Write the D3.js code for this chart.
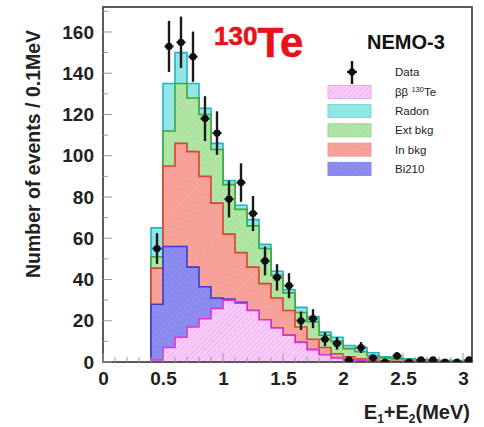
<!DOCTYPE html>
<html>
<head>
<meta charset="utf-8">
<script src="https://cdn.jsdelivr.net/npm/d3@7"></script>
<style>
  html, body { margin: 0; padding: 0; background: #fff; }
  svg { display: block; font-family: "Liberation Sans", Arial, Helvetica, sans-serif; }
</style>
</head>
<body>
<svg id="chart" width="484" height="427"></svg>
<script>
// Bin lower edges (MeV), bin width 0.1 MeV
const binEdges = [0.4,0.5,0.6,0.7,0.8,0.9,1.0,1.1,1.2,1.3,1.4,1.5,1.6,1.7,1.8,1.9,2.0,2.1,2.2,2.3,2.4,2.5,2.6,2.7,2.8,2.9,3.0];
const binWidth = 0.1;

// Stacked MC components (events / 0.1 MeV), bottom to top
const bb130Te = [1,7,12,17,21,26,30,28.5,25,20.5,16.5,13,9.5,6,3.5,2,1,0.5,0,0,0,0,0,0,0,0,0];
const bi210   = [27,49,44,29,15.5,5,0.5,0.5,0,0,0,0,0,0,0,0,0,0,0,0,0,0,0,0,0,0,0];
const inBkg   = [17.5,39,50,56,53.5,46,31.5,24,21,17.5,14.5,12,7.5,5,3.5,2,1.5,1,1,0.6,0.4,0.3,0.2,0.1,0,0,0];
const extBkg  = [5.5,17,29,26,30,26,24,21,20,17,11,8.5,7,8.5,6,6,4,3.5,2,1.4,1.1,0.7,0.6,0.5,0.5,0.4,0.3];
const radon   = [14,23,15,7,3,3,2,2,3,2,2,1.5,2.5,2.5,1.5,2,1.5,2,1.5,0.5,0.5,0.5,0.4,0.4,0.3,0.3,0.3];

// Measured counts per bin
const dataCounts = [55,153,155,148,118,111,79,87,72,49,41,37,20,21,11,9,1,7,2,0,3,0,1,1,0,0,1];

// Axis ticks
const yTicks = [0,20,40,60,80,100,120,140,160];
const xTicks = [0,0.5,1,1.5,2,2.5,3];

const components = [
  { key: "bb",    values: bb130Te, fill: "url(#hatchPink)",  stroke: "#e030d8" },
  { key: "bi",    values: bi210,   fill: "url(#hatchBlue)",  stroke: "#3a3ad0" },
  { key: "inb",   values: inBkg,   fill: "url(#hatchRed)",   stroke: "#d8442e" },
  { key: "ext",   values: extBkg,  fill: "url(#hatchGreen)", stroke: "#3aa83a" },
  { key: "radon", values: radon,   fill: "#92e6e6",          stroke: "#22b4c4" }
];

const legendItems = [
  { label: "Radon",   fill: "#92e6e6",          stroke: "#7fd6d6" },
  { label: "Ext bkg", fill: "url(#hatchGreen)", stroke: "#98d890" },
  { label: "In bkg",  fill: "url(#hatchRed)",   stroke: "#ee9a92" },
  { label: "Bi210",   fill: "url(#hatchBlue)",  stroke: "#8484ea" }
];

const svg = d3.select("#chart");
const margin = { left: 103, right: 12, top: 7, bottom: 65 };
const W = 484, H = 427;

const x = d3.scaleLinear().domain([0, 3.075]).range([margin.left, W - margin.right]);
const y = d3.scaleLinear().domain([0, 172.1]).range([H - margin.bottom, margin.top]);

// Hatch patterns
const defs = svg.append("defs");
function hatch(id, bg, line, size) {
  const p = defs.append("pattern").attr("id", id)
    .attr("patternUnits", "userSpaceOnUse").attr("width", size).attr("height", size)
    .attr("patternTransform", "rotate(45)");
  p.append("rect").attr("width", size).attr("height", size).attr("fill", bg);
  p.append("line").attr("x1", 0).attr("y1", 0).attr("x2", 0).attr("y2", size)
    .attr("stroke", line).attr("stroke-width", 0.8);
}
hatch("hatchPink",  "#f8cdf8", "#ec8ce8", 3.5);
hatch("hatchBlue",  "#8e8ef2", "#7474e0", 3.5);
hatch("hatchRed",   "#f7a49c", "#ee8c84", 3.5);
hatch("hatchGreen", "#b2e6a6", "#98d88c", 3.5);

svg.append("clipPath").attr("id", "plotClip")
  .append("rect").attr("x", margin.left).attr("y", margin.top)
  .attr("width", W - margin.right - margin.left).attr("height", H - margin.bottom - margin.top);

// Stack the MC components
const rows = binEdges.map((e, i) => {
  const r = { edge: e };
  components.forEach(c => r[c.key] = c.values[i]);
  return r;
});
const stacked = d3.stack().keys(components.map(c => c.key))(rows);

// Each cumulative histogram is filled from zero, drawn from the top layer down
const plot = svg.append("g").attr("clip-path", "url(#plotClip)");
const lastEdge = binEdges[binEdges.length - 1] + binWidth;
for (let k = stacked.length - 1; k >= 0; k--) {
  const layer = stacked[k];
  const pts = layer.map(d => [d.data.edge, d[1]]);
  pts.push([lastEdge, layer[layer.length - 1][1]]);
  const area = d3.area().curve(d3.curveStepAfter)
    .x(d => x(d[0])).y0(y(0)).y1(d => y(d[1]));
  const line = d3.line().curve(d3.curveStepAfter)
    .x(d => x(d[0])).y(d => y(d[1]));
  plot.append("path").attr("d", area(pts)).attr("fill", components[k].fill).attr("stroke", "none");
  const outline = [[binEdges[0], 0]].concat(pts);
  plot.append("path").attr("d", line(outline)).attr("fill", "none")
    .attr("stroke", components[k].stroke).attr("stroke-width", 1.6);
}

// Frame
svg.append("rect")
  .attr("x", margin.left).attr("y", margin.top)
  .attr("width", W - margin.right - margin.left).attr("height", H - margin.bottom - margin.top)
  .attr("fill", "none").attr("stroke", "#4a4a4a").attr("stroke-width", 1.8);

// Data points with sqrt(N) errors
const dataG = svg.append("g").attr("clip-path", "url(#plotClip)");
dataCounts.forEach((n, i) => {
  const cx = x(binEdges[i] + binWidth / 2);
  const err = Math.sqrt(n);
  dataG.append("line").attr("x1", cx).attr("x2", cx)
    .attr("y1", y(n + err)).attr("y2", y(Math.max(0, n - err)))
    .attr("stroke", "#1a1a1a").attr("stroke-width", 2.4);
  dataG.append("line").attr("x1", cx - 4.5).attr("x2", cx + 4.5)
    .attr("y1", y(n)).attr("y2", y(n))
    .attr("stroke", "#1a1a1a").attr("stroke-width", 2.2);
  dataG.append("circle").attr("cx", cx).attr("cy", y(n)).attr("r", 3.6).attr("fill", "#111");
});

// Y axis
const yAxis = d3.axisLeft(y).tickValues(yTicks).tickSize(0).tickPadding(9).tickFormat(d3.format("d"));
const gy = svg.append("g").attr("transform", `translate(${margin.left},0)`).call(yAxis);
gy.select(".domain").remove();
gy.selectAll("text").attr("font-size", 19).attr("font-weight", "bold").attr("fill", "#222");
// inward ticks
const yMinor = d3.range(0, 171, 10);
svg.append("g").selectAll("line").data(yMinor).join("line")
  .attr("x1", margin.left).attr("x2", d => margin.left + (d % 20 === 0 ? 9 : 5))
  .attr("y1", d => y(d)).attr("y2", d => y(d))
  .attr("stroke", "#9a9a9a").attr("stroke-width", 1);

// X axis
const xAxis = d3.axisBottom(x).tickValues(xTicks).tickSize(0).tickPadding(10).tickFormat(d => d3.format("")(d));
const gx = svg.append("g").attr("transform", `translate(0,${y(0)})`).call(xAxis);
gx.select(".domain").remove();
gx.selectAll("text").attr("font-size", 19).attr("font-weight", "bold").attr("fill", "#222");
const xMinor = d3.range(0, 31, 1).map(v => v / 10);
svg.append("g").selectAll("line").data(xMinor).join("line")
  .attr("x1", d => x(d)).attr("x2", d => x(d))
  .attr("y1", y(0)).attr("y2", (d, i) => y(0) - (i % 5 === 0 ? 9 : 5))
  .attr("stroke", "#9a9a9a").attr("stroke-width", 1);

// Axis titles
svg.append("text")
  .attr("transform", `translate(40,${(10 + 298) / 2}) rotate(-90)`)
  .attr("text-anchor", "middle").attr("font-size", 19.5).attr("font-weight", "bold").attr("fill", "#222")
  .text("Number of events / 0.1MeV");

const xt = svg.append("text").attr("x", 470).attr("y", 419).attr("text-anchor", "end")
  .attr("font-size", 20).attr("font-weight", "bold").attr("fill", "#222");
xt.append("tspan").text("E");
xt.append("tspan").attr("font-size", 12).attr("dy", 4).text("1");
xt.append("tspan").attr("dy", -4).text("+E");
xt.append("tspan").attr("font-size", 12).attr("dy", 4).text("2");
xt.append("tspan").attr("dy", -4).text("(MeV)");

// Isotope label
const iso = svg.append("text").attr("x", 214).attr("y", 57).attr("fill", "#e8121c")
  .attr("font-weight", "bold").attr("stroke", "#e8121c").attr("stroke-width", 0.6);
iso.append("tspan").attr("font-size", 26).attr("dy", -12).text("130");
iso.append("tspan").attr("font-size", 42).attr("dy", 12).text("Te");

svg.append("text").attr("x", 367).attr("y", 49).attr("font-size", 20).attr("font-weight", "bold")
  .attr("fill", "#111").text("NEMO-3");

// Legend
const lg = svg.append("g");
const boxX = 328, boxW = 43, boxH = 13, textX = 395;
// data marker
lg.append("line").attr("x1", 352).attr("x2", 352).attr("y1", 61).attr("y2", 84)
  .attr("stroke", "#111").attr("stroke-width", 2.4);
lg.append("line").attr("x1", 347).attr("x2", 357).attr("y1", 72).attr("y2", 72)
  .attr("stroke", "#111").attr("stroke-width", 2);
lg.append("circle").attr("cx", 352).attr("cy", 72).attr("r", 3.6).attr("fill", "#111");
lg.append("text").attr("x", textX).attr("y", 76).attr("font-size", 11.5).attr("fill", "#222").text("Data");

// ββ row
lg.append("rect").attr("x", boxX).attr("y", 92 - boxH / 2).attr("width", boxW).attr("height", boxH)
  .attr("fill", "url(#hatchPink)").attr("stroke", "#eeaaee").attr("stroke-width", 1);
const bbText = lg.append("text").attr("x", textX).attr("y", 96).attr("font-size", 11.5).attr("fill", "#222");
bbText.append("tspan").text("ββ ");
bbText.append("tspan").attr("font-size", 7.5).attr("dy", -4).text("130");
bbText.append("tspan").attr("dy", 4).text("Te");

legendItems.forEach((it, i) => {
  const cy = 111 + i * 19.3;
  lg.append("rect").attr("x", boxX).attr("y", cy - boxH / 2).attr("width", boxW).attr("height", boxH)
    .attr("fill", it.fill).attr("stroke", it.stroke).attr("stroke-width", 1);
  lg.append("text").attr("x", textX).attr("y", cy + 4).attr("font-size", 11.5).attr("fill", "#222").text(it.label);
});
</script>
</body>
</html>
